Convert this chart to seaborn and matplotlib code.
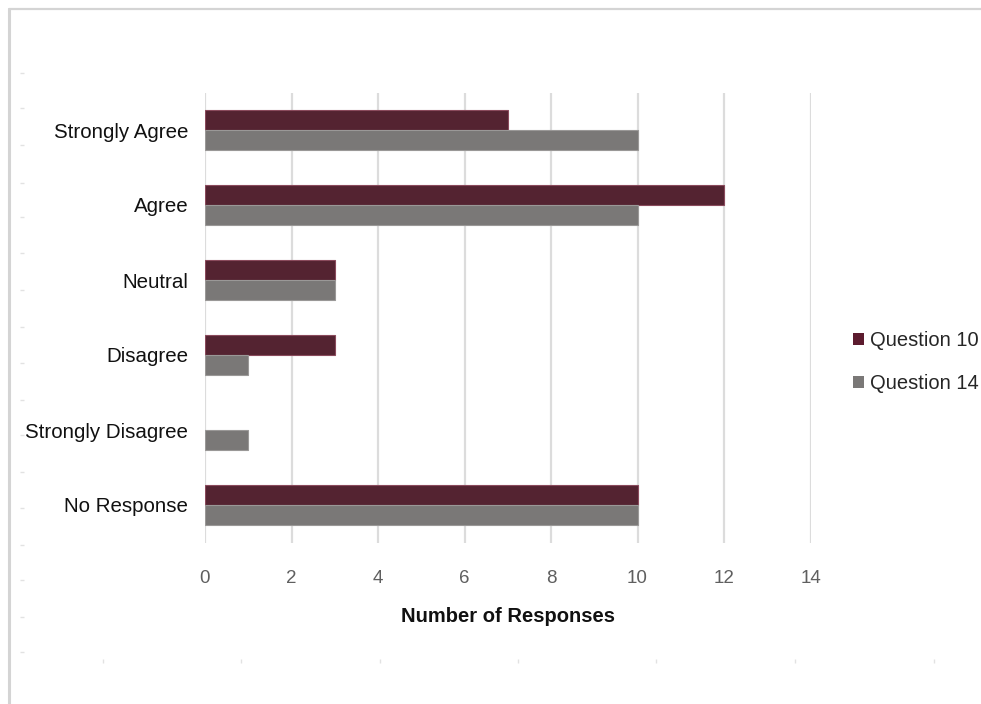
import matplotlib
matplotlib.use("Agg")
import matplotlib.pyplot as plt
from matplotlib.patches import Patch
from matplotlib.lines import Line2D
import pandas as pd
import seaborn as sns

categories = ["Strongly Agree", "Agree", "Neutral", "Disagree",
              "Strongly Disagree", "No Response"]
question_10 = [7, 12, 3, 3, 0, 10]
question_14 = [10, 10, 3, 1, 1, 10]
series_names = ["Question 10", "Question 14"]
x_ticks = [0, 2, 4, 6, 8, 10, 12, 14]

colors = {"Question 10": "#5c1b2e", "Question 14": "#7a7877"}
edges = {"Question 10": "#8a4a5c", "Question 14": "#9a9897"}

df = pd.DataFrame({
    "Response": categories * 2,
    "Count": question_10 + question_14,
    "Question": [series_names[0]] * len(categories) + [series_names[1]] * len(categories),
})

sns.set_theme(style="white")
regular = ["Liberation Sans", "DejaVu Sans"]
plt.rcParams["font.family"] = regular

fig = plt.figure(figsize=(9.81, 7.04), dpi=100)
W, H = 981, 704

# page frame
fig.add_artist(Line2D([9 / W, 9 / W], [0, 1 - 9 / H], color="#d4d4d4", lw=2.2,
                      transform=fig.transFigure))
fig.add_artist(Line2D([9 / W, 1], [1 - 9 / H, 1 - 9 / H], color="#d4d4d4", lw=1.6,
                      transform=fig.transFigure))

# faint outer tick marks of the surrounding chart frame
deco = fig.add_axes([20 / W, 1 - 663 / H, (950 - 20) / W, (663 - 70) / H])
deco.set_xlim(20, 950)
deco.set_ylim(663, 70)
deco.patch.set_alpha(0)
for s in deco.spines.values():
    s.set_visible(False)
deco.set_xticks([103, 241, 380, 518, 656, 795, 934])
deco.set_yticks([73, 108, 145, 183, 217, 253, 290, 327, 363, 400, 435, 472,
                 508, 545, 580, 617, 652])
deco.tick_params(axis="both", length=3, width=1, color="#e2e2e2",
                 labelbottom=False, labelleft=False, direction="in",
                 bottom=True, left=True)

ax = fig.add_axes([205 / W, 1 - 542.5 / H, (810.5 - 205) / W, (542.5 - 92.5) / H])
sns.barplot(data=df, x="Count", y="Response", hue="Question", order=categories,
            hue_order=series_names, palette=colors, orient="h", width=0.54,
            gap=0, ax=ax, legend=False, errorbar=None)

for cont, name in zip(ax.containers, series_names):
    for bar in cont:
        if bar.get_width() > 0:
            bar.set_edgecolor(edges[name])
            bar.set_linewidth(0.8)
        else:
            bar.set_linewidth(0)

ax.set_xlim(0, 14)
ax.set_ylim(len(categories) - 0.5, -0.5)
ax.set_xticks(x_ticks)
ax.set_xticklabels([str(t) for t in x_ticks], fontsize=13.5, color="#5f5f5f")
ax.set_yticklabels(categories, fontsize=14.8, color="#111111")
ax.tick_params(axis="x", length=0, pad=20)
ax.tick_params(axis="y", length=0, pad=12)
ax.grid(axis="x", color="#dcdcdc", lw=1.6)
ax.set_axisbelow(True)
for s in ax.spines.values():
    s.set_visible(False)
ax.set_ylabel("")
ax.set_xlabel("Number of Responses", fontsize=14.5, fontweight="bold",
              color="#111111", labelpad=14)

handles = [Patch(facecolor=colors[n], edgecolor="none") for n in series_names]
fig.legend(handles, series_names, loc="center left",
           bbox_to_anchor=(843 / W, 1 - 362 / H), frameon=False,
           prop={"size": 14.5}, handlelength=0.55, handleheight=0.55,
           handletextpad=0.3, labelspacing=1.2, borderpad=0)

fig.savefig("out.png", dpi=100, facecolor="white")
